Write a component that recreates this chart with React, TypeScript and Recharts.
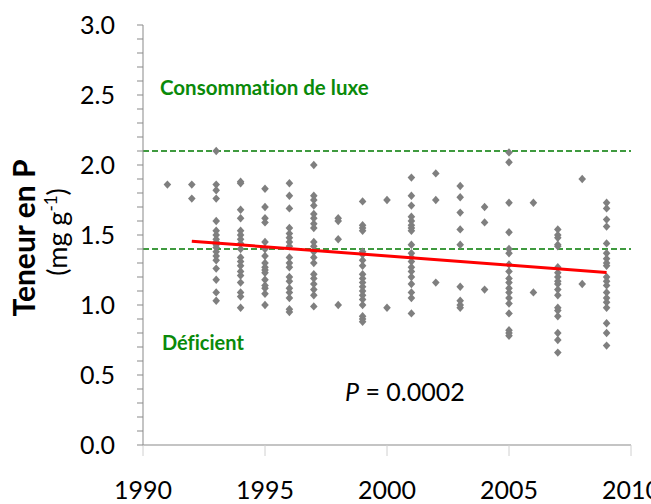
import {
  ScatterChart,
  Scatter,
  XAxis,
  YAxis,
  ReferenceLine,
} from "recharts";

const years = [
  1991, 1992, 1993, 1994, 1995, 1996, 1997, 1998, 1999, 2000, 2001, 2002,
  2003, 2004, 2005, 2006, 2007, 2008, 2009,
];

// P content per year (mg g-1)
const teneur: number[][] = [
  [1.86],
  [1.86, 1.76],
  [2.1, 1.86, 1.82, 1.76, 1.6, 1.53, 1.5, 1.47, 1.45, 1.43, 1.41, 1.38, 1.35, 1.32, 1.26, 1.18, 1.09, 1.03],
  [1.88, 1.87, 1.68, 1.62, 1.53, 1.5, 1.47, 1.44, 1.4, 1.34, 1.31, 1.28, 1.24, 1.21, 1.16, 1.09, 1.06, 0.98],
  [1.83, 1.7, 1.62, 1.59, 1.45, 1.4, 1.35, 1.3, 1.27, 1.25, 1.23, 1.18, 1.14, 1.12, 1.08, 1.0],
  [1.87, 1.78, 1.69, 1.55, 1.51, 1.48, 1.45, 1.42, 1.34, 1.3, 1.27, 1.2, 1.17, 1.12, 1.09, 1.05, 0.97, 0.95],
  [2.0, 1.78, 1.75, 1.71, 1.65, 1.62, 1.58, 1.55, 1.45, 1.42, 1.38, 1.34, 1.3, 1.22, 1.19, 1.15, 1.11, 1.07, 0.99],
  [1.62, 1.6, 1.47, 1.0],
  [1.74, 1.57, 1.55, 1.53, 1.38, 1.36, 1.32, 1.28, 1.22, 1.19, 1.16, 1.13, 1.1, 1.07, 1.04, 1.0, 0.92, 0.9, 0.88],
  [1.75, 0.98],
  [1.91, 1.78, 1.71, 1.63, 1.6, 1.57, 1.55, 1.53, 1.43, 1.37, 1.34, 1.31, 1.27, 1.24, 1.2, 1.15, 1.09, 1.05, 0.94],
  [1.94, 1.75, 1.16],
  [1.85, 1.77, 1.66, 1.54, 1.43, 1.13, 1.03, 1.0, 0.98],
  [1.7, 1.59, 1.11],
  [2.09, 2.02, 1.73, 1.52, 1.4, 1.37, 1.29, 1.24, 1.19, 1.16, 1.12, 1.09, 1.05, 1.01, 0.94, 0.82, 0.8, 0.78],
  [1.73, 1.09],
  [1.54, 1.5, 1.48, 1.43, 1.42, 1.27, 1.23, 1.2, 1.17, 1.15, 1.11, 1.07, 0.98, 0.96, 0.92, 0.8, 0.75, 0.66],
  [1.9, 1.15],
  [1.73, 1.69, 1.61, 1.56, 1.44, 1.37, 1.33, 1.3, 1.28, 1.2, 1.17, 1.14, 1.09, 1.05, 1.02, 0.98, 0.87, 0.8, 0.71],
];

const trendYears = [1992, 2009];
const trendValues = [1.455, 1.233];

const luxeLimit = 2.1;
const deficitLimit = 1.4;

const xTicks = [1990, 1995, 2000, 2005, 2010];
const yTicks = [
  0, 0.1, 0.2, 0.3, 0.4, 0.5, 0.6, 0.7, 0.8, 0.9, 1.0, 1.1, 1.2, 1.3, 1.4,
  1.5, 1.6, 1.7, 1.8, 1.9, 2.0, 2.1, 2.2, 2.3, 2.4, 2.5, 2.6, 2.7, 2.8, 2.9,
  3.0,
];

const points = years.flatMap((yr, i) => teneur[i].map((v) => ({ x: yr, y: v })));
const trend = trendYears.map((yr, i) => ({ x: yr, y: trendValues[i] }));

const FONT = "Lato, 'Open Sans', sans-serif";
const GREEN = "#0a8a0a";

const Diamond = (props: any) => {
  const { cx, cy } = props;
  if (cx == null || cy == null) return <g />;
  return (
    <polygon
      points={`${cx},${cy - 4.2} ${cx + 3.8},${cy} ${cx},${cy + 4.2} ${cx - 3.8},${cy}`}
      fill="#7f7f7f"
    />
  );
};

const YTick = (props: any) => {
  const { x, y, payload } = props;
  const v = Math.round(payload.value * 10);
  if (v % 5 !== 0) return <g />;
  return (
    <text
      x={x}
      y={y}
      dy="0.36em"
      textAnchor="end"
      fill="#000"
      fontSize={25}
      fontFamily={FONT}
    >
      {payload.value.toFixed(1)}
    </text>
  );
};

export default function App() {
  return (
    <div style={{ position: "absolute", left: 0, top: 0, background: "#fff" }}>
      <ScatterChart
        width={651}
        height={504}
        margin={{ top: 25, right: 20, bottom: 0, left: 0 }}
      >
        <XAxis
          type="number"
          dataKey="x"
          domain={[1990, 2010]}
          ticks={xTicks}
          interval={0}
          tickSize={11}
          tickMargin={25}
          height={59}
          axisLine={{ stroke: "#898989" }}
          tickLine={{ stroke: "#d0d0d0" }}
          tick={{ fill: "#000", fontSize: 25, fontFamily: FONT }}
        />
        <YAxis
          type="number"
          dataKey="y"
          domain={[0, 3]}
          ticks={yTicks}
          interval={0}
          tickSize={6}
          tickMargin={22}
          width={143}
          axisLine={{ stroke: "#898989" }}
          tickLine={{ stroke: "#898989" }}
          tick={<YTick />}
        />
        <ReferenceLine
          y={luxeLimit}
          stroke="#007a00"
          strokeWidth={1.6}
          strokeDasharray="6 3"
        />
        <ReferenceLine
          y={deficitLimit}
          stroke="#007a00"
          strokeWidth={1.6}
          strokeDasharray="6 3"
        />
        <Scatter
          data={points}
          shape={<Diamond />}
          isAnimationActive={false}
        />
        <Scatter
          data={trend}
          line={{ stroke: "#ff0000", strokeWidth: 3 }}
          shape={() => <g />}
          isAnimationActive={false}
        />
        <text
          x={160}
          y={95}
          fill={GREEN}
          fontSize={20.5}
          fontWeight="bold"
          fontFamily={FONT}
          style={{ fontVariantLigatures: "none" }}
        >
          Consommation de luxe
        </text>
        <text
          x={162}
          y={350}
          fill={GREEN}
          fontSize={20}
          fontWeight="bold"
          fontFamily={FONT}
          style={{ fontVariantLigatures: "none" }}
        >
          Déficient
        </text>
        <text x={345} y={401} fill="#000" fontSize={25} fontFamily={FONT}>
          <tspan fontStyle="italic">P</tspan> = 0.0002
        </text>
        <text
          x={35}
          y={238}
          transform="rotate(-90 35 238)"
          textAnchor="middle"
          fill="#000"
          fontSize={30}
          fontWeight="bold"
          fontFamily={FONT}
        >
          Teneur en P
        </text>
        <text
          x={67}
          y={232}
          transform="rotate(-90 67 232)"
          textAnchor="middle"
          fill="#000"
          fontSize={27}
          fontFamily={FONT}
        >
          (mg g<tspan dy={-10} fontSize={17}>-1</tspan>
          <tspan dy={10}>)</tspan>
        </text>
      </ScatterChart>
    </div>
  );
}
